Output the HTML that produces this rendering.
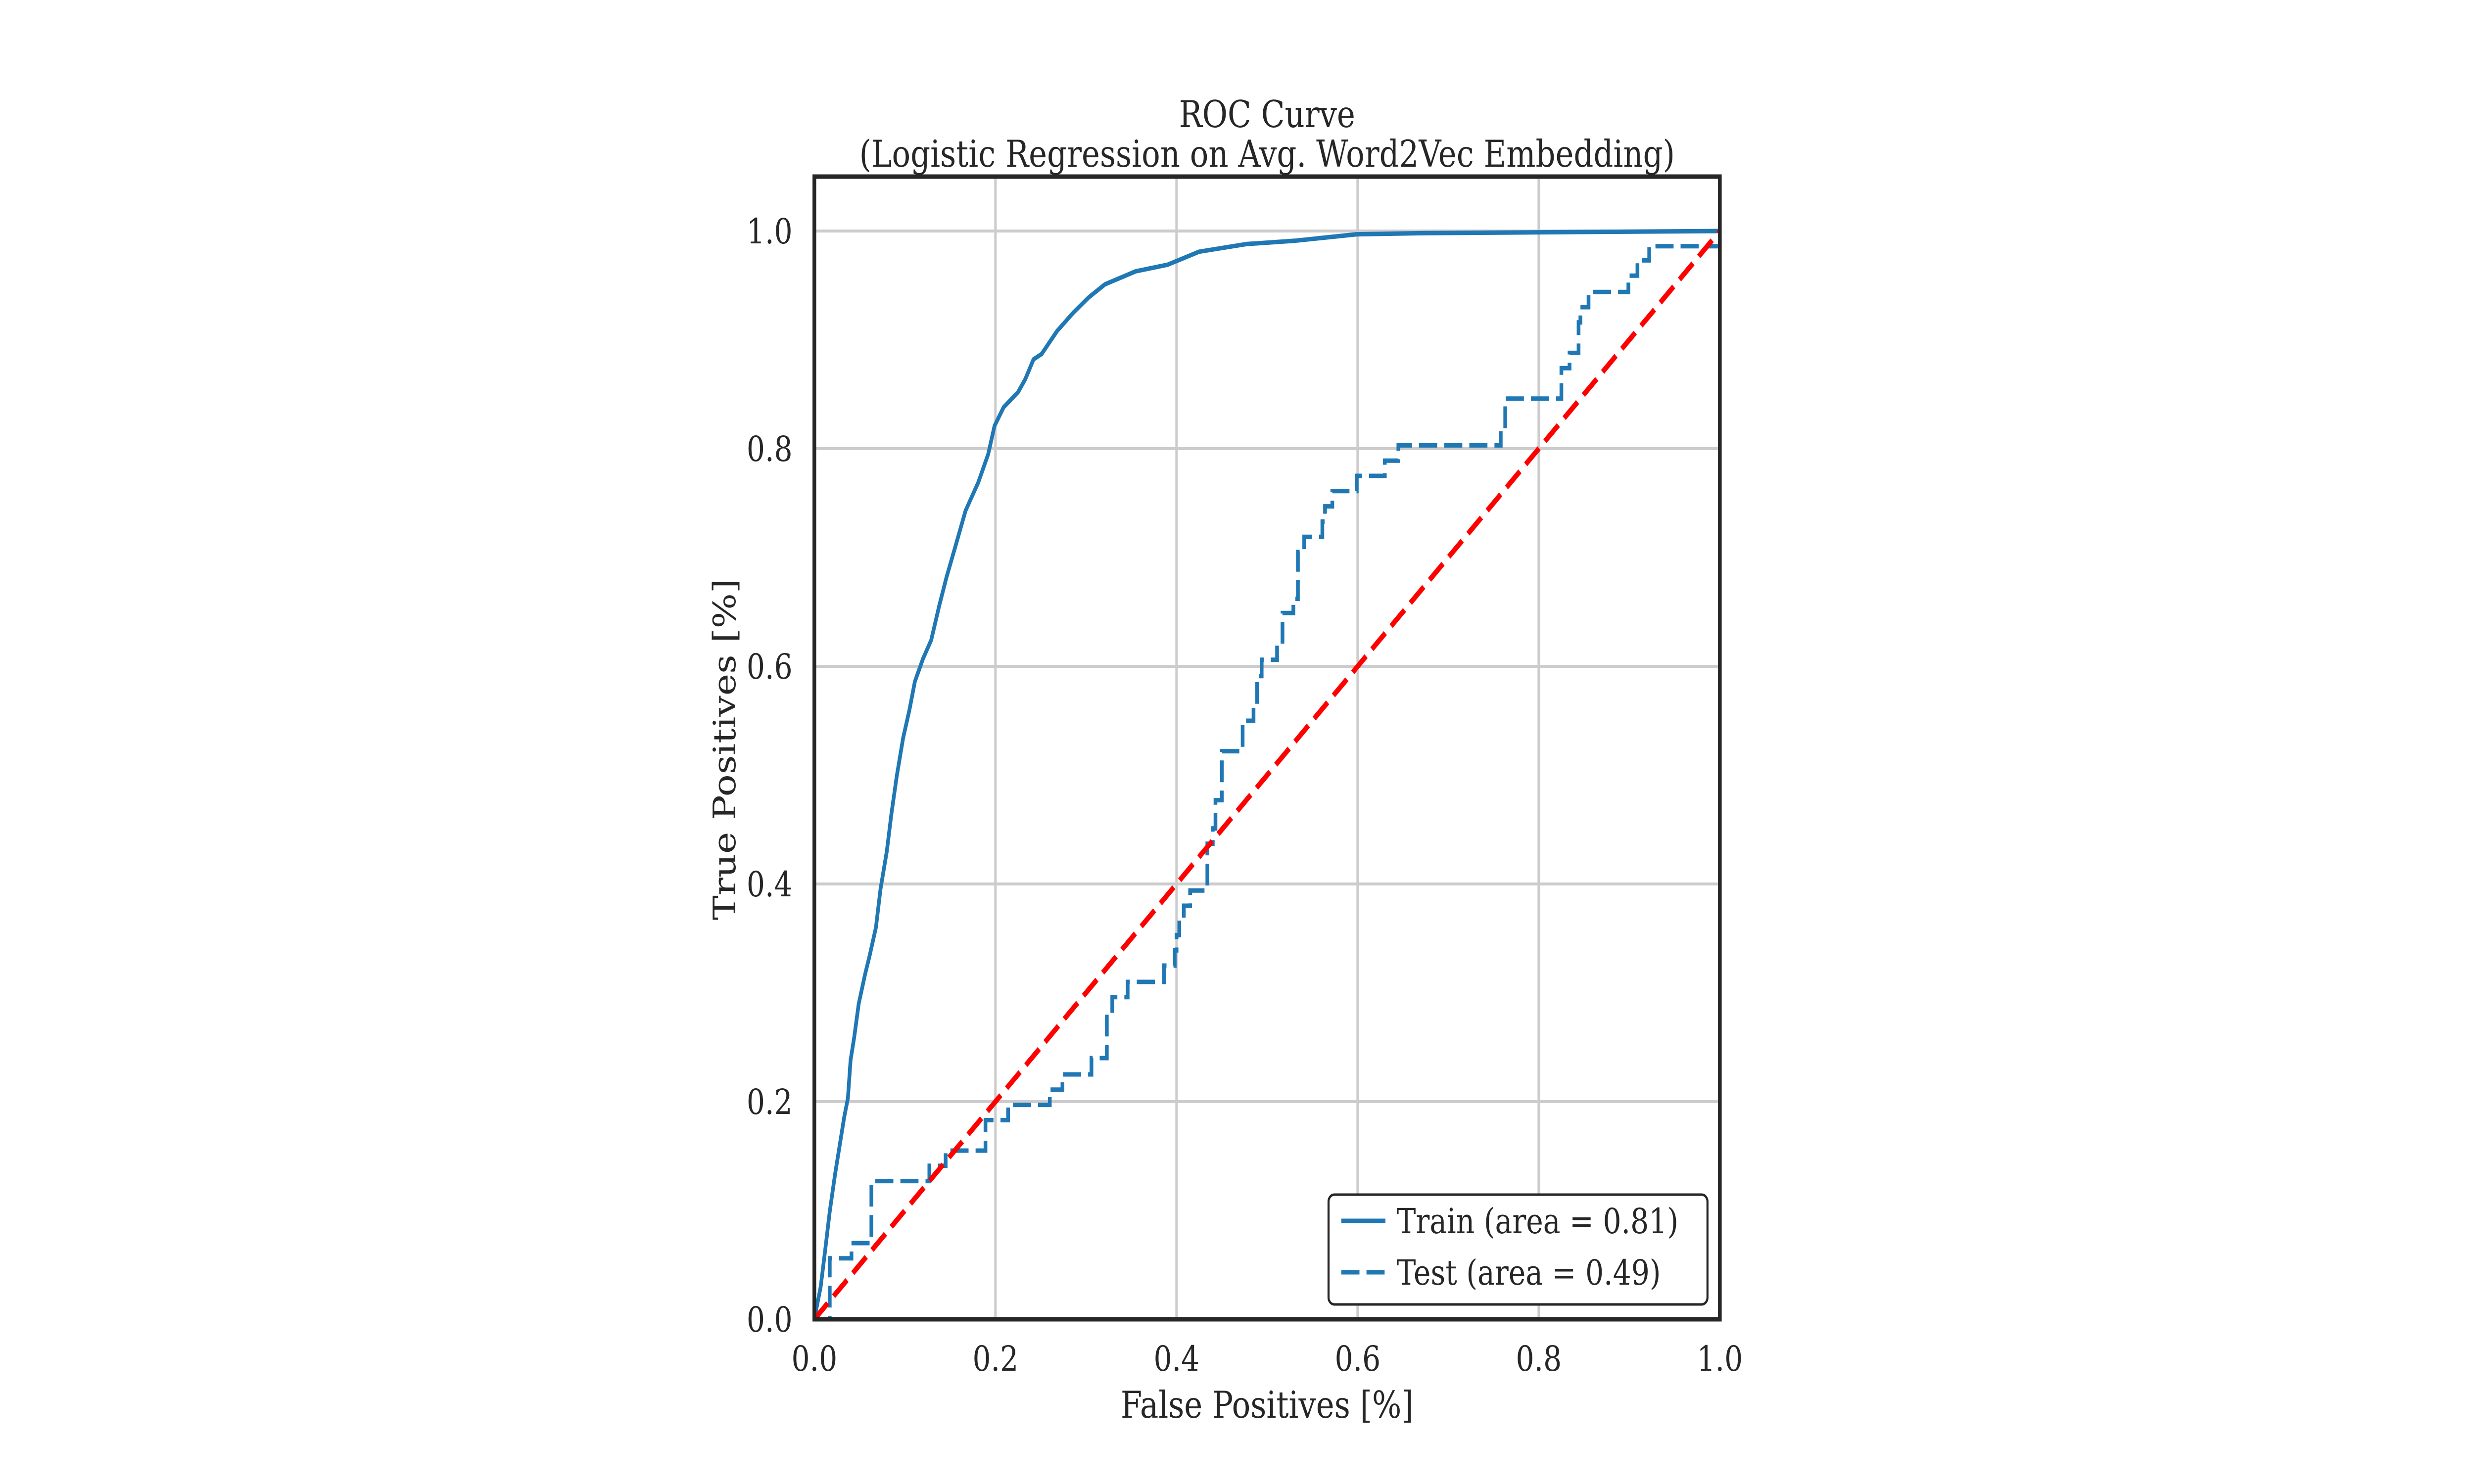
<!DOCTYPE html>
<html><head><meta charset="utf-8"><style>
html,body{margin:0;padding:0;background:#fff;overflow:hidden;width:100vw;height:100vh;}
svg{display:block;width:100vw;height:100vh;}
text{font-family:"DejaVu Serif","Liberation Serif",serif;fill:#262626;}
</style></head><body>
<svg id="chart" viewBox="0 0 6000 3000" preserveAspectRatio="none" xmlns="http://www.w3.org/2000/svg">
<rect width="6000" height="3000" fill="#fff"/>
<g id="grid"></g>
<g id="series"></g>
<rect x="1975" y="357" width="2196" height="2310" fill="none" stroke="#262626" stroke-width="9"/>
<g id="ticks"></g>
<text x="3073" y="257" font-size="75" text-anchor="middle">ROC Curve</text>
<text x="3073" y="337" font-size="75" text-anchor="middle">(Logistic Regression on Avg. Word2Vec Embedding)</text>
<text x="3073" y="2866" font-size="75" text-anchor="middle">False Positives [%]</text>
<text transform="translate(1783,1515) rotate(-90)" font-size="75" text-anchor="middle">True Positives [%]</text>
<g>
<rect x="3222" y="2415" width="919" height="222" rx="14" fill="#fff" stroke="#262626" stroke-width="5"/>
<line x1="3253" y1="2468" x2="3360" y2="2468" stroke="#1f77b4" stroke-width="9"/>
<text x="3387" y="2493" font-size="70">Train (area = 0.81)</text>
<line x1="3253" y1="2572" x2="3360" y2="2572" stroke="#1f77b4" stroke-width="9" stroke-dasharray="44 17"/>
<text x="3387" y="2597" font-size="70">Test (area = 0.49)</text>
</g>
</svg>
<script>
const xTicks = [0, 0.2, 0.4, 0.6, 0.8, 1.0];
const yTicks = [0, 0.2, 0.4, 0.6, 0.8, 1.0];
const trainFpr = [0,.007,.012,.017,.023,.028,.033,.037,.040,.044,.049,.056,.061,.068,.073,.080,.085,.091,.098,.105,.111,.120,.129,.138,.146,.155,.167,.181,.192,.199,.209,.225,.233,.242,.251,.268,.286,.303,.321,.355,.390,.425,.477,.530,.599,.669,1];
const trainTpr = [0,.03,.064,.099,.134,.16,.186,.203,.238,.259,.29,.317,.334,.36,.395,.43,.464,.499,.534,.56,.586,.607,.624,.656,.682,.708,.743,.769,.795,.821,.838,.852,.864,.882,.887,.908,.925,.939,.951,.963,.969,.981,.988,.991,.997,.998,1];
const testFpr = [0,.017,.041,.063,.127,.145,.189,.214,.260,.274,.306,.323,.329,.346,.386,.398,.400,.403,.408,.415,.434,.440,.443,.450,.473,.485,.489,.494,.511,.517,.529,.534,.541,.561,.564,.572,.599,.630,.645,.758,.763,.825,.834,.844,.846,.855,.899,.909,.922,1.0];
const testTpr = [0,.056,.070,.127,.141,.155,.183,.197,.211,.225,.240,.281,.296,.310,.325,.339,.353,.367,.380,.394,.437,.451,.477,.522,.550,.563,.591,.606,.620,.649,.662,.705,.719,.733,.747,.761,.775,.789,.803,.817,.846,.874,.888,.916,.930,.944,.959,.973,.986,1.0];
const chanceX = [0, 1];
const chanceY = [0, 1];

const X0 = 1975, X1 = 4171, Y0 = 2667, YMAX = 1.05, YTOP = 357;
function sx(v){ return X0 + v * (X1 - X0); }
function sy(v){ return Y0 - v / YMAX * (Y0 - YTOP); }
const NS = 'http://www.w3.org/2000/svg';
function mk(tag, attrs, parent){
  const e = document.createElementNS(NS, tag);
  for (const k in attrs) e.setAttribute(k, attrs[k]);
  parent.appendChild(e); return e;
}
const grid = document.getElementById('grid');
const ticks = document.getElementById('ticks');
const series = document.getElementById('series');
xTicks.forEach(t => {
  const l = mk('line', {x1: sx(t), x2: sx(t), y1: YTOP, y2: Y0, stroke: '#cccccc', 'stroke-width': 6}, grid);
  
  
  const tx = mk('text', {x: sx(t), y: 2771, 'font-size': 70, 'text-anchor': 'middle'}, ticks);
  tx.textContent = t.toFixed(1);
  
  
});
yTicks.forEach(t => {
  const l = mk('line', {x1: X0, x2: X1, y1: sy(t), y2: sy(t), stroke: '#cccccc', 'stroke-width': 6}, grid);
  
  
  const tx = mk('text', {x: 1922, y: sy(t) + 25, 'font-size': 70, 'text-anchor': 'end'}, ticks);
  tx.textContent = t.toFixed(1);
  
  
});
let d = trainFpr.map((x, i) => (i ? 'L' : 'M') + sx(x).toFixed(1) + ' ' + sy(trainTpr[i]).toFixed(1)).join(' ');
const tr = mk('path', {d: d, fill: 'none', stroke: '#1f77b4', 'stroke-width': 9, 'stroke-linejoin': 'round'}, series);


let td = 'M' + sx(testFpr[0]) + ' ' + sy(testTpr[0]);
for (let i = 1; i < testFpr.length; i++) {
  td += ' L' + sx(testFpr[i]).toFixed(1) + ' ' + sy(testTpr[i - 1]).toFixed(1);
  td += ' L' + sx(testFpr[i]).toFixed(1) + ' ' + sy(testTpr[i]).toFixed(1);
}
const te = mk('path', {d: td, fill: 'none', stroke: '#1f77b4', 'stroke-width': 9, 'stroke-dasharray': '44 17'}, series);


const ch = mk('line', {x1: sx(chanceX[0]), y1: sy(chanceY[0]), x2: sx(chanceX[1]), y2: sy(chanceY[1]), stroke: '#ff0000', 'stroke-width': 11, 'stroke-dasharray': '46 20'}, series);


</script>
</body></html>
